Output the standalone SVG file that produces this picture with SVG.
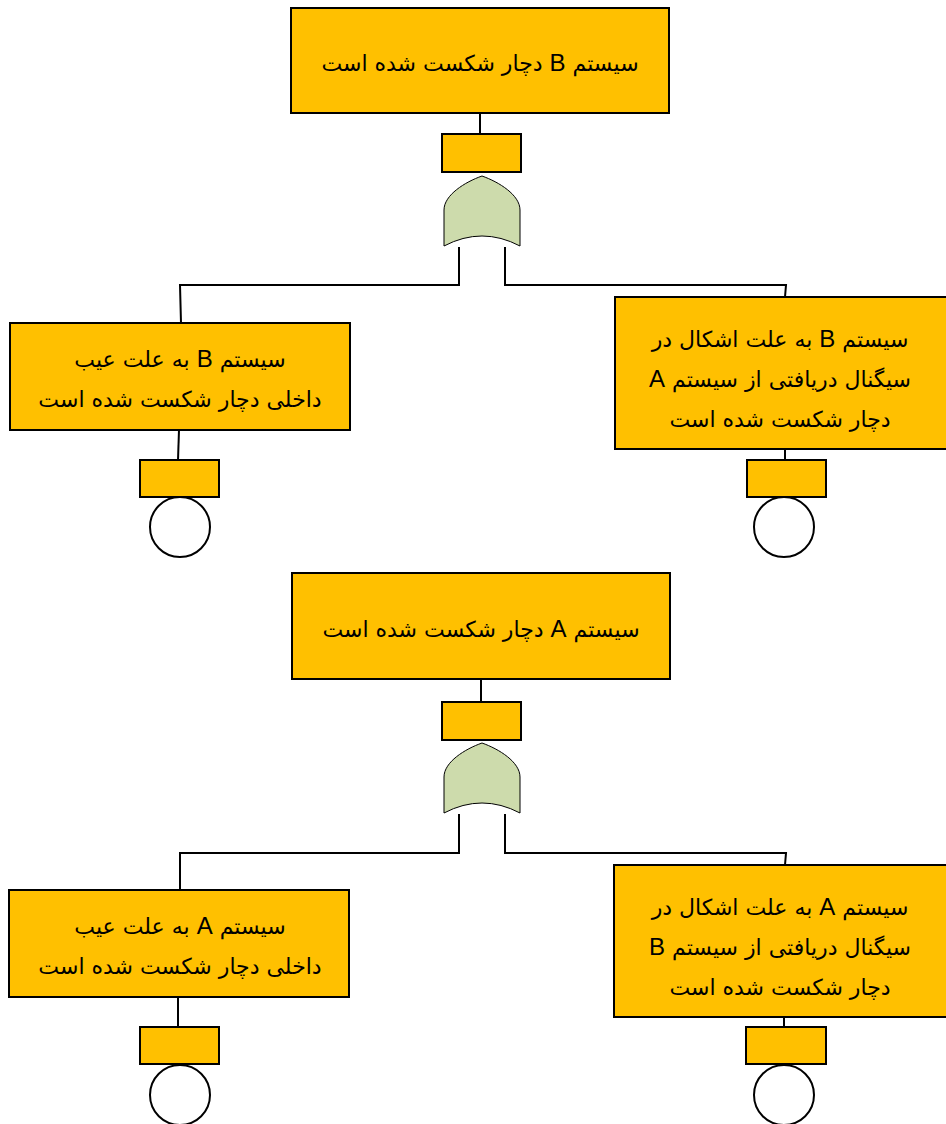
<svg xmlns="http://www.w3.org/2000/svg" width="946" height="1124" viewBox="0 0 946 1124">
  <style>
    .box { fill: #FFC000; stroke: #000; stroke-width: 2; }
    .gate { fill: #CDDBAC; stroke: #000; stroke-width: 1; }
    .circ { fill: #FFF; stroke: #000; stroke-width: 2; }
    .wire { fill: none; stroke: #000; stroke-width: 2; }
    .lbl { font-family: "DejaVu Sans", sans-serif; font-size: 22px; fill: #000; text-anchor: middle; direction: rtl; unicode-bidi: embed; }
    .lat { font-family: "Liberation Sans", Arial, sans-serif; font-size: 24px; }
  </style>
  <defs>
    <path id="orGate" d="M-38,38 L-38,2 C-38,-13 -17,-26 0,-32 C17,-26 38,-13 38,2 L38,38 Q0,18 -38,38 Z"/>
  </defs>

  <g id="connectors">
    <!-- upper tree -->
    <path class="wire" d="M480,113 V134"/>
    <path class="wire" d="M459,247 V285 H180 L181,323"/>
    <path class="wire" d="M505,247 V285 H786 L785,297"/>
    <path class="wire" d="M179,430 L178,460"/>
    <path class="wire" d="M785,449 V460"/>
    <!-- lower tree -->
    <path class="wire" d="M481,679 V702"/>
    <path class="wire" d="M459,814 V853 H180 V890"/>
    <path class="wire" d="M505,814 V853 H786 L785,865"/>
    <path class="wire" d="M178,997 V1027"/>
    <path class="wire" d="M784,1017 V1027"/>
  </g>

  <!-- upper tree -->
  <g id="topB">
    <rect class="box" x="291" y="8" width="378" height="105"/>
    <text class="lbl" x="480" y="71">سیستم <tspan class="lat">B</tspan> دچار شکست شده است</text>
  </g>
  <g id="topB-tx">
    <rect class="box" x="442" y="134" width="79" height="38"/>
  </g>
  <g id="orB">
    <use href="#orGate" class="gate" x="482" y="208"/>
  </g>
  <g id="internalB">
    <rect class="box" x="10" y="323" width="340" height="107"/>
    <text class="lbl" x="180" y="367">سیستم <tspan class="lat">B</tspan> به علت عیب</text>
    <text class="lbl" x="180" y="407">داخلی دچار شکست شده است</text>
  </g>
  <g id="internalB-tx">
    <rect class="box" x="140" y="460" width="79" height="37"/>
  </g>
  <g id="internalB-basic">
    <circle class="circ" cx="180" cy="527" r="30"/>
  </g>
  <g id="signalB">
    <rect class="box" x="615" y="297" width="335" height="152"/>
    <text class="lbl" x="780" y="347">سیستم <tspan class="lat">B</tspan> به علت اشکال در</text>
    <text class="lbl" x="780" y="387">سیگنال دریافتی از سیستم <tspan class="lat">A</tspan></text>
    <text class="lbl" x="780" y="427">دچار شکست شده است</text>
  </g>
  <g id="signalB-tx">
    <rect class="box" x="747" y="460" width="79" height="37"/>
  </g>
  <g id="signalB-basic">
    <circle class="circ" cx="784" cy="527" r="30"/>
  </g>

  <!-- lower tree -->
  <g id="topA">
    <rect class="box" x="292" y="573" width="378" height="106"/>
    <text class="lbl" x="481" y="637">سیستم <tspan class="lat">A</tspan> دچار شکست شده است</text>
  </g>
  <g id="topA-tx">
    <rect class="box" x="442" y="702" width="79" height="38"/>
  </g>
  <g id="orA">
    <use href="#orGate" class="gate" x="482" y="775"/>
  </g>
  <g id="internalA">
    <rect class="box" x="9" y="890" width="340" height="107"/>
    <text class="lbl" x="180" y="934">سیستم <tspan class="lat">A</tspan> به علت عیب</text>
    <text class="lbl" x="180" y="974">داخلی دچار شکست شده است</text>
  </g>
  <g id="internalA-tx">
    <rect class="box" x="140" y="1027" width="79" height="37"/>
  </g>
  <g id="internalA-basic">
    <circle class="circ" cx="180" cy="1095" r="30"/>
  </g>
  <g id="signalA">
    <rect class="box" x="614" y="865" width="336" height="152"/>
    <text class="lbl" x="780" y="915">سیستم <tspan class="lat">A</tspan> به علت اشکال در</text>
    <text class="lbl" x="780" y="955">سیگنال دریافتی از سیستم <tspan class="lat">B</tspan></text>
    <text class="lbl" x="780" y="995">دچار شکست شده است</text>
  </g>
  <g id="signalA-tx">
    <rect class="box" x="746" y="1027" width="80" height="37"/>
  </g>
  <g id="signalA-basic">
    <circle class="circ" cx="784" cy="1095" r="30"/>
  </g>
</svg>
